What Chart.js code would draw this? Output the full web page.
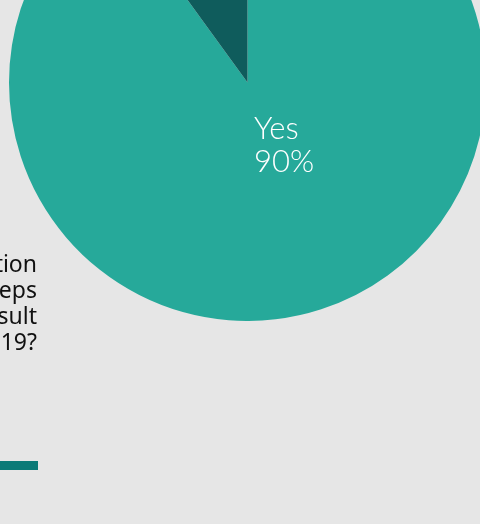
<!DOCTYPE html>
<html>
<head>
<meta charset="utf-8">
<title>Steps taken as a result of COVID-19</title>
<script src="https://cdn.jsdelivr.net/npm/chart.js@4/dist/chart.umd.min.js"></script>
<style>
  html, body {
    margin: 0;
    padding: 0;
    width: 480px;
    height: 524px;
    overflow: hidden;
    background: #e6e6e6;
  }
  #stage {
    position: relative;
    width: 480px;
    height: 524px;
    overflow: hidden;
  }
  #pie {
    position: absolute;
    left: 9px;
    top: -156px;
  }
  #question {
    position: absolute;
    right: 443px;
    top: 250px;
    width: 300px;
    text-align: right;
    font-family: "Noto Sans", "Open Sans", sans-serif;
    font-size: 23px;
    line-height: 26px;
    color: #111111;
    white-space: nowrap;
  }
  #rule {
    position: absolute;
    left: 0;
    top: 461px;
    width: 38px;
    height: 9px;
    background: #0b7a77;
  }
</style>
</head>
<body>
<div id="stage">
  <canvas id="pie" width="477" height="477"></canvas>
  <div id="question">Has your organisation<br>taken any steps<br>as a result<br>of COVID-19?</div>
  <div id="rule"></div>
</div>
<script>
  // Survey answers and their shares (percent)
  const answers = ['Yes', 'No'];
  const shares = [90, 10];
  const sliceColors = ['#26a99a', '#0f5c5c'];

  // Writes "answer / share%" inside the slice, anchored on the arc's centroid
  const sliceLabels = {
    id: 'sliceLabels',
    afterDatasetsDraw(chart) {
      const ctx = chart.ctx;
      const meta = chart.getDatasetMeta(0);
      const arc = meta.data[0];
      const p = arc.getProps(['x', 'y', 'startAngle', 'endAngle', 'outerRadius'], true);
      const mid = (p.startAngle + p.endAngle) / 2;
      const ax = p.x + Math.cos(mid) * p.outerRadius * 0.3;
      const ay = p.y + Math.sin(mid) * p.outerRadius * 0.3;
      ctx.save();
      ctx.fillStyle = '#ffffff';
      ctx.font = '300 31px Lato, "Open Sans", sans-serif';
      ctx.textAlign = 'left';
      ctx.textBaseline = 'alphabetic';
      ctx.fillText(answers[0], ax - 15.5, ay - 11.5);
      ctx.fillText(shares[0] + '%', ax - 15.5, ay + 21.5);
      ctx.restore();
    }
  };

  new Chart(document.getElementById('pie'), {
    type: 'pie',
    data: {
      labels: answers,
      datasets: [{
        data: shares,
        backgroundColor: sliceColors,
        borderWidth: 0,
        hoverOffset: 0
      }]
    },
    options: {
      responsive: false,
      animation: false,
      layout: { padding: 0 },
      plugins: {
        legend: { display: false },
        tooltip: { enabled: false },
        title: { display: false }
      }
    },
    plugins: [sliceLabels]
  });
</script>
</body>
</html>
